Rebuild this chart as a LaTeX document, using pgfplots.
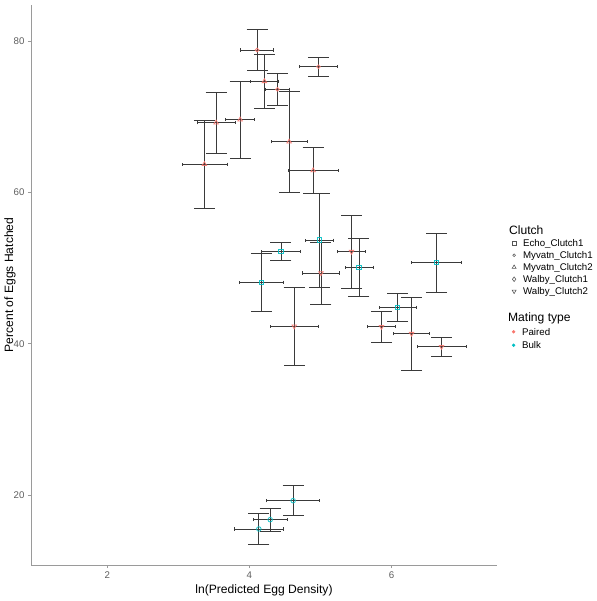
\documentclass[border=0pt]{standalone}
\usepackage{fontspec}
\setmainfont{Liberation Sans}
\usepackage{pgfplots}
\pgfplotsset{compat=1.18}
\usepackage{pgfplotstable}
\definecolor{pinkc}{HTML}{F8766D}
\definecolor{tealc}{HTML}{00BFC4}
\definecolor{ebc}{HTML}{3A3A3A}
\definecolor{axc}{HTML}{9A9A9A}
\definecolor{tickc}{HTML}{5E5E5E}
\definecolor{legc}{HTML}{555555}

% Paired, Myvatn_Clutch2 (triangle)
\pgfplotstableread{
x y ex ey
4.211 74.67 0.197 3.59
3.869 69.60 0.207 5.09
3.531 69.20 0.270 4.03
3.366 63.71 0.317 5.79
4.559 66.69 0.254 6.71
4.897 62.89 0.348 3.08
}\pTri
% Paired, Myvatn_Clutch1 (circle)
\pgfplotstableread{
x y ex ey
4.108 78.81 0.235 2.74
4.394 73.62 0.165 2.07
4.972 76.60 0.270 1.28
}\pCirc
% Paired, Walby_Clutch2 (down triangle)
\pgfplotstableread{
x y ex ey
5.007 49.34 0.258 4.10
4.630 42.30 0.334 5.19
5.437 52.16 0.200 4.85
5.859 42.24 0.200 2.07
6.282 41.32 0.250 4.85
6.704 39.60 0.345 1.23
}\pDown
% Bulk, Echo_Clutch1 (square)
\pgfplotstableread{
x y ex ey
4.986 53.68 0.200 6.18
4.444 52.18 0.275 1.23
4.169 48.12 0.310 3.81
5.541 50.09 0.197 3.83
6.634 50.73 0.350 3.90
6.085 44.81 0.260 1.81
}\bSq
% Bulk, Myvatn_Clutch1 (circle)
\pgfplotstableread{
x y ex ey
4.615 19.25 0.373 1.98
4.292 16.74 0.240 1.48
4.132 15.51 0.340 2.05
}\bCirc

\newcommand\ebars[1]{%
\addplot[draw=none, mark=none, forget plot, error bars/.cd, y dir=both, y explicit,
  error bar style={draw=ebc, line width=0.7pt},
  error mark options={draw=ebc, line width=0.7pt, mark size=10.5pt, rotate=90}]
  table[x=x, y=y, y error=ey] {#1};
\addplot[draw=none, mark=none, forget plot, error bars/.cd, x dir=both, x explicit,
  error bar style={draw=ebc, line width=0.7pt},
  error mark options={draw=ebc, line width=0.7pt, mark size=1.6pt, rotate=90}]
  table[x=x, y=y, x error=ex] {#1};
}

\begin{document}
\begin{tikzpicture}
\begin{axis}[name=ax, scale only axis, width=466pt, height=560pt,
  at={(0,0)}, anchor=south west,
  xmin=0.925, xmax=7.485, ymin=10.75, ymax=84.76,
  axis lines=left, axis line style={-, draw=axc, line width=0.9pt},
  xtick={2,4,6}, ytick={20,40,60,80},
  tick align=outside, major tick length=3pt,
  tick style={draw=axc, line width=0.8pt},
  ticklabel style={font=\fontsize{9.7}{11}\selectfont, text=tickc},
  /pgf/number format/assume math mode=true,
  xlabel={ln(Predicted Egg Density)},
  ylabel={Percent of Eggs Hatched},
  every axis x label/.style={at={(axis description cs:0.5,-0.0446)}, anchor=center, font=\fontsize{12.1}{14}\selectfont},
  every axis y label/.style={at={(axis description cs:-0.0451,0.5)}, anchor=center, rotate=90, font=\fontsize{12.1}{14}\selectfont},
  legend image code/.code={\draw[#1] plot coordinates {(0pt,0pt)};},
  legend cell align=left,
  legend style={at={(1.032,0.607)}, anchor=north west, draw=none, fill=none,
    inner sep=0pt, column sep=7pt, row sep=0pt,
    font=\fontsize{9.7}{11}\selectfont,
    nodes={inner sep=0pt, text height=9.4pt, text depth=2.6pt}},
]
\ebars{\pTri}
\ebars{\pCirc}
\ebars{\pDown}
\ebars{\bSq}
\ebars{\bCirc}

\addplot[only marks, forget plot, mark=triangle, mark size=2.6pt, draw=pinkc, mark options={line width=0.8pt, fill=none, opacity=0.9}] table[x=x,y=y] {\pTri};
\addplot[only marks, forget plot, mark=o, mark size=1.9pt, draw=pinkc, mark options={line width=0.8pt, opacity=0.9}] table[x=x,y=y] {\pCirc};
\addplot[only marks, forget plot, mark=triangle, mark size=2.6pt, draw=pinkc, mark options={rotate=180, line width=0.8pt, fill=none, opacity=0.9}] table[x=x,y=y] {\pDown};
\addplot[only marks, forget plot, mark=square, mark size=2.3pt, draw=tealc, mark options={line width=0.8pt, fill=none, opacity=0.9}] table[x=x,y=y] {\bSq};
\addplot[only marks, forget plot, mark=o, mark size=2.3pt, draw=tealc, mark options={line width=0.8pt, opacity=0.9}] table[x=x,y=y] {\bCirc};

\addlegendimage{empty legend}\addlegendentry{\hspace*{-14pt}\fontsize{12.1}{14}\selectfont Clutch}
\addlegendimage{mark=square, legc, mark size=2pt, mark options={line width=0.6pt}}\addlegendentry{Echo\_Clutch1}
\addlegendimage{mark=o, legc, mark size=1.4pt, mark options={line width=0.6pt}}\addlegendentry{Myvatn\_Clutch1}
\addlegendimage{mark=triangle, legc, mark size=2.3pt, mark options={line width=0.6pt}}\addlegendentry{Myvatn\_Clutch2}
\addlegendimage{mark=diamond, legc, mark size=2.3pt, mark options={line width=0.6pt}}\addlegendentry{Walby\_Clutch1}
\addlegendimage{mark=triangle, legc, mark size=2.3pt, mark options={rotate=180, line width=0.6pt}}\addlegendentry{Walby\_Clutch2}
\end{axis}

\begin{axis}[scale only axis, width=466pt, height=560pt,
  at={(0,0)}, anchor=south west, hide axis,
  xmin=0.925, xmax=7.485, ymin=10.75, ymax=84.76,
  legend image code/.code={\draw[#1] plot coordinates {(0pt,0pt)};},
  legend cell align=left,
  legend style={at={(1.032,0.453)}, anchor=north west, draw=none, fill=none,
    inner sep=0pt, column sep=7pt, row sep=0pt,
    font=\fontsize{9.7}{11}\selectfont,
    nodes={inner sep=0pt, text height=10.15pt, text depth=3.35pt}},
]
\addlegendimage{empty legend}\addlegendentry{\hspace*{-14pt}\fontsize{12.1}{14}\selectfont Mating type}
\addlegendimage{mark=*, pinkc, mark size=1.5pt}\addlegendentry{Paired}
\addlegendimage{mark=*, tealc, mark size=1.5pt}\addlegendentry{Bulk}
\end{axis}

\path ([shift={(-31pt,-36pt)}]ax.south west) rectangle ([shift={(99pt,5pt)}]ax.north east);
\end{tikzpicture}
\end{document}
